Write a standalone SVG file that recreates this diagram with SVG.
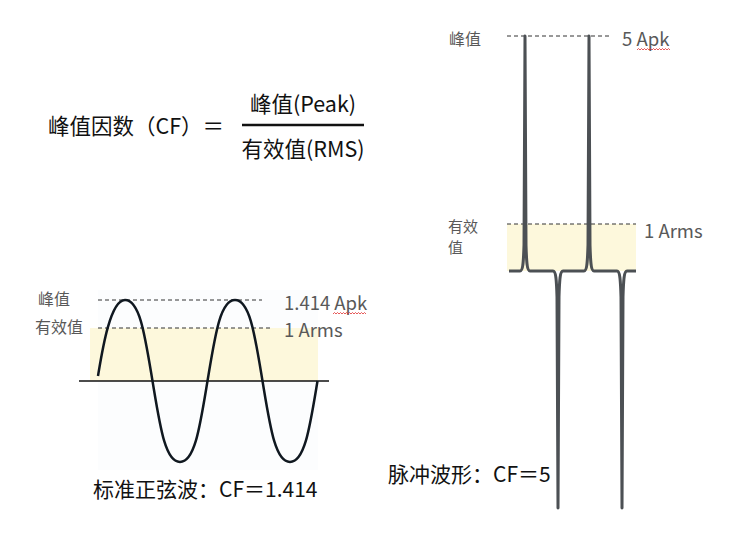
<svg xmlns="http://www.w3.org/2000/svg" width="741" height="558" viewBox="0 0 741 558">
<style>
.t{font-family:"Noto Sans CJK SC","Noto Sans",sans-serif;}
.big{font-size:21.5px;fill:#111;}
.cap{font-size:21px;fill:#111;}
.lab{font-size:16px;fill:#595959;}
.val{font-size:18.5px;fill:#595959;}
.dash{stroke:#333;stroke-width:1;stroke-dasharray:4 3;fill:none;}
.rms{fill:#fdf8dc;}
.sq{stroke:#e03030;stroke-width:0.8;fill:none;}
</style>
<rect width="741" height="558" fill="#fff"/>
<g id="formula">
<text class="t big" x="48" y="134">峰值因数（CF）＝</text>
<text class="t big" x="303" y="112" text-anchor="middle">峰值(Peak)</text>
<line x1="242" y1="125" x2="364" y2="125" stroke="#111" stroke-width="2.5"/>
<text class="t big" x="303" y="157" text-anchor="middle">有效值(RMS)</text>
</g>
<g id="sine">
<rect x="98" y="290" width="220" height="180" fill="#fcfdfe"/>
<rect class="rms" x="90" y="328" width="228" height="53"/>
<line class="dash" x1="98" y1="300" x2="262" y2="300"/>
<line class="dash" x1="98" y1="328" x2="270" y2="328"/>
<line x1="79" y1="381" x2="329" y2="381" stroke="#111" stroke-width="1.3"/>
<path d="M98,376 C102,352 110,300 125,300 C140,300 145,336 152.5,381 C160,426 165,462 180,462 C195,462 200,426 207.5,381 C215,336 220,300 235,300 C250,300 255,336 262.5,381 C270,426 275,462 290,462 C305,462 310,426 317.5,381" fill="none" stroke="#101820" stroke-width="2.5"/>
<text class="t lab" x="38" y="305">峰值</text>
<text class="t lab" x="35" y="333">有效值</text>
<text class="t val" x="284" y="310">1.414 Apk</text>
<path class="sq" d="M333,314 l1.5,-1.5 l1.5,1.5 l1.5,-1.5 l1.5,1.5 l1.5,-1.5 l1.5,1.5 l1.5,-1.5 l1.5,1.5 l1.5,-1.5 l1.5,1.5 l1.5,-1.5 l1.5,1.5 l1.5,-1.5 l1.5,1.5 l1.5,-1.5 l1.5,1.5 l1.5,-1.5 l1.5,1.5 l1.5,-1.5 l1.5,1.5 l1.5,-1.5 l1.5,1.5"/>
<text class="t val" x="284" y="337">1 Arms</text>
<text class="t cap" x="93" y="497">标准正弦波：CF＝1.414</text>
</g>
<g id="pulse">
<rect class="rms" x="507" y="224" width="129" height="47"/>
<line class="dash" x1="507" y1="36" x2="612" y2="36"/>
<line class="dash" x1="507" y1="224" x2="636" y2="224"/>
<path d="M509,271 H520 C523,271 523.5,262 524,245 L525,36 L526,245 C526.5,262 527,271 530,271 H553 C556,271 556.5,280 557,297 L558,508 L559,297 C559.5,280 560,271 563,271 H584 C587,271 587.5,262 588,245 L589,36 L590,245 C590.5,262 591,271 594,271 H617 C620,271 620.5,280 621,297 L622,508 L623,297 C623.5,280 624,271 627,271 H636" fill="none" stroke="#4c5054" stroke-width="3" stroke-linejoin="round"/>
<text class="t lab" x="449" y="45">峰值</text>
<text class="t val" x="622" y="46">5 Apk</text>
<path class="sq" d="M637,50 l1.5,-1.5 l1.5,1.5 l1.5,-1.5 l1.5,1.5 l1.5,-1.5 l1.5,1.5 l1.5,-1.5 l1.5,1.5 l1.5,-1.5 l1.5,1.5 l1.5,-1.5 l1.5,1.5 l1.5,-1.5 l1.5,1.5 l1.5,-1.5 l1.5,1.5 l1.5,-1.5 l1.5,1.5 l1.5,-1.5 l1.5,1.5 l1.5,-1.5 l1.5,1.5"/>
<text class="t lab" x="448" y="232" style="font-size:15px">有效</text>
<text class="t lab" x="448" y="253" style="font-size:15px">值</text>
<text class="t val" x="644" y="238">1 Arms</text>
<text class="t cap" x="388" y="482">脉冲波形：CF＝5</text>
</g>
</svg>
